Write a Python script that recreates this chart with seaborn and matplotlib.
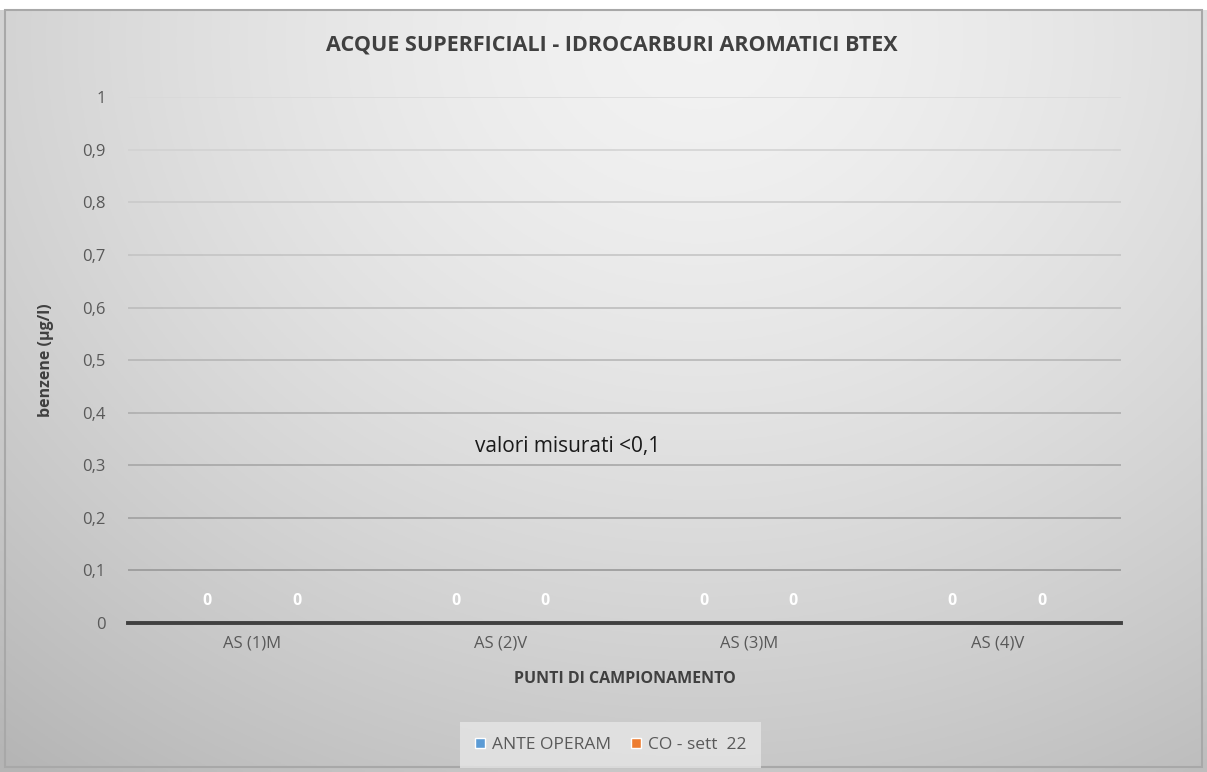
import numpy as np
import pandas as pd
import matplotlib
matplotlib.use("Agg")
import matplotlib.pyplot as plt
from matplotlib.patches import Rectangle
import seaborn as sns

categories = ["AS (1)M", "AS (2)V", "AS (3)M", "AS (4)V"]
series_names = ["ANTE OPERAM", "CO - sett  22"]
ante_operam = [0, 0, 0, 0]
co_sett_22 = [0, 0, 0, 0]
yticks = [0, 0.1, 0.2, 0.3, 0.4, 0.5, 0.6, 0.7, 0.8, 0.9, 1]
ytick_labels = ["0", "0,1", "0,2", "0,3", "0,4", "0,5", "0,6", "0,7", "0,8", "0,9", "1"]

df = pd.DataFrame({
    "cat": categories * 2,
    "series": [series_names[0]] * 4 + [series_names[1]] * 4,
    "value": ante_operam + co_sett_22,
})

sns.set_theme(style="white")
plt.rcParams["font.family"] = ["Open Sans", "DejaVu Sans"]

fig = plt.figure(figsize=(12.07, 7.72), dpi=100)

# background radial gradient
bg = fig.add_axes([0, 0, 1, 1], zorder=-10)
yy, xx = np.mgrid[0:1:300j, 0:1:400j]
r = np.sqrt(((xx - 0.58) / 0.75) ** 2 + ((yy - 0.05) / 1.0) ** 2)
vals = 0.95 - 0.18 * np.clip(r, 0, 1.2) ** 1.5
img = np.dstack([vals, vals, vals])
bg.imshow(img, extent=[0, 1, 0, 1], origin="upper", aspect="auto")
bg.axis("off")
fig.patches.append(Rectangle((0.004, 0.006), 0.992, 0.981, transform=fig.transFigure,
                             fill=False, edgecolor="#a8a8a8", linewidth=1.5, zorder=5))
fig.patches.append(Rectangle((0, 0.987), 1, 0.013, transform=fig.transFigure,
                             facecolor="white", edgecolor="none", zorder=4))

ax = fig.add_axes([0.106, 0.193, 0.823, 0.681])
ax.set_facecolor("none")
palette = {series_names[0]: "#5b9bd5", series_names[1]: "#ed7d31"}
sns.barplot(data=df, x="cat", y="value", hue="series", palette=palette,
            width=0.72, ax=ax, legend=False)

for cont in ax.containers:
    ax.bar_label(cont, labels=["0"] * len(cont), padding=10, color="white",
                 fontsize=11.5, fontweight="bold")

ax.set_ylim(0, 1)
ax.set_xlim(-0.5, 3.5)
ax.set_yticks(yticks)
ax.set_yticklabels(ytick_labels)
ax.tick_params(axis="both", length=0, labelsize=12, labelcolor="#595959")
ax.tick_params(axis="y", pad=16)
ax.tick_params(axis="x", pad=9)
ax.yaxis.grid(True)
glines = ax.yaxis.get_gridlines()
n = len(glines)
for i, gl in enumerate(glines):
    c = 0.55 + 0.30 * (i / (n - 1))
    gl.set_color((c, c, c))
    gl.set_linewidth(1.1)
ax.set_axisbelow(True)
for s in ["top", "right", "left"]:
    ax.spines[s].set_visible(False)
ax.spines["bottom"].set_color("#404040")
ax.spines["bottom"].set_linewidth(2.8)

ax.set_xlabel("PUNTI DI CAMPIONAMENTO", fontsize=11.5, fontweight="bold", color="#404040", labelpad=14)
ax.set_ylabel("benzene (µg/l)", fontsize=11.5, fontweight="bold", color="#404040", labelpad=20)

ax.text(0.443, 0.335, "valori misurati <0,1", transform=ax.transAxes, fontsize=15,
        color="#1a1a1a", ha="center", va="center")

fig.text(0.507, 0.942, "ACQUE SUPERFICIALI - IDROCARBURI AROMATICI BTEX",
         ha="center", va="center", fontsize=15.5, fontweight="bold", color="#404040")

handles = [Rectangle((0, 0), 1, 1, facecolor=palette[s]) for s in series_names]
leg = fig.legend(handles, series_names, loc="center", bbox_to_anchor=(0.506, 0.035),
                 ncol=2, frameon=True, fontsize=12.5, handlelength=0.55, handleheight=0.55,
                 handletextpad=0.4, columnspacing=1.2, borderpad=0.55)
leg.get_frame().set_facecolor("#e6e6e6")
leg.get_frame().set_edgecolor("none")
leg.get_frame().set_boxstyle("square")
for t in leg.get_texts():
    t.set_color("#595959")

fig.savefig("out.png", dpi=100)
